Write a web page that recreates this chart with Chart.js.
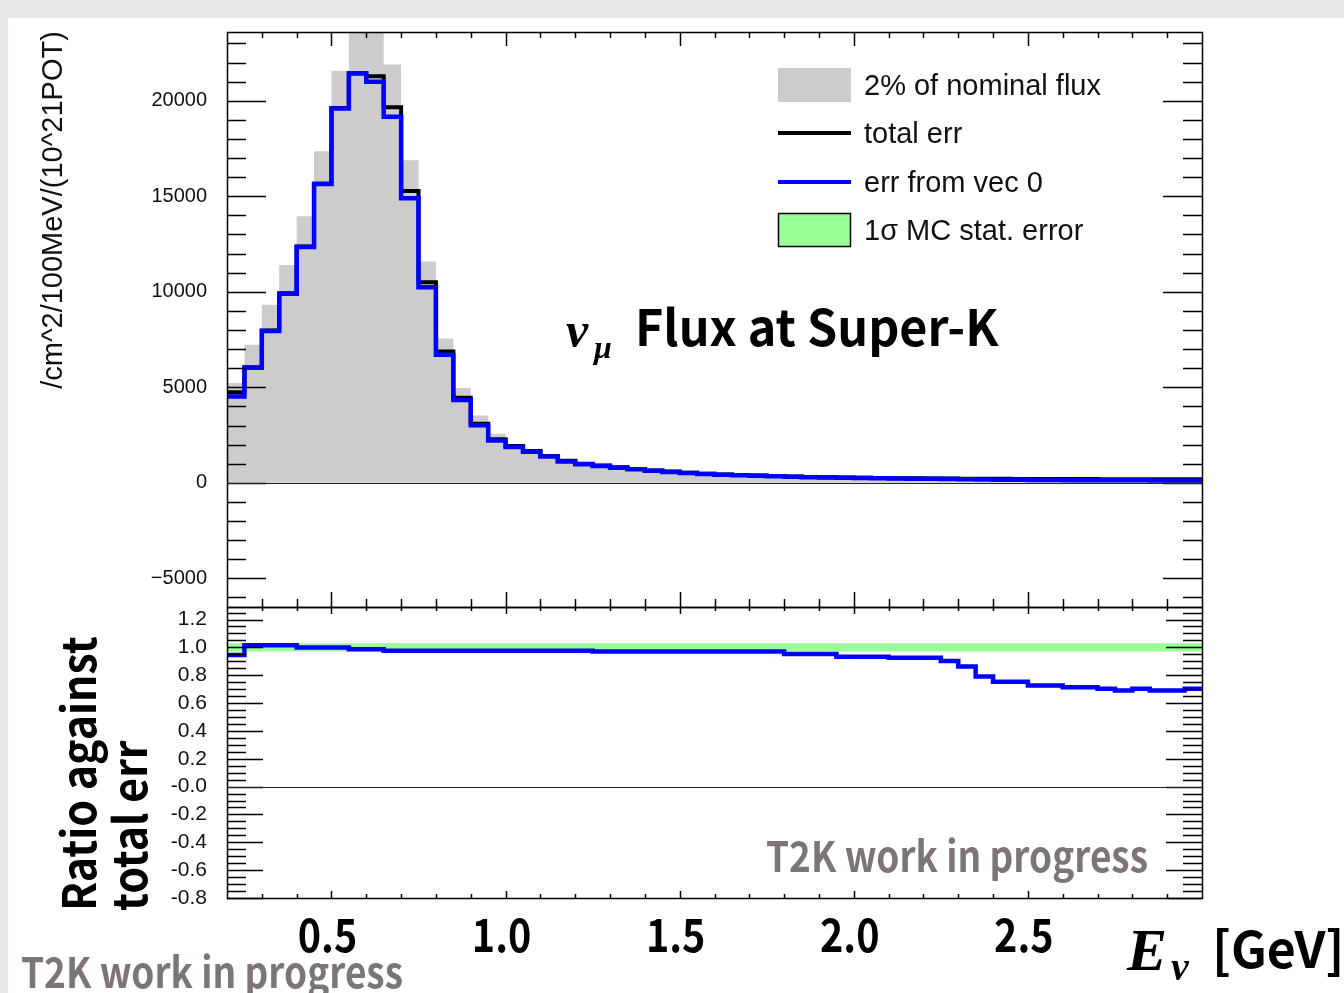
<!DOCTYPE html>
<html>
<head>
<meta charset="utf-8">
<title>numu flux at Super-K</title>
<script src="https://cdn.jsdelivr.net/npm/chart.js@4.4.1/dist/chart.umd.min.js"></script>
<style>
  html, body { margin: 0; padding: 0; width: 1344px; height: 993px; overflow: hidden; background: #e9e7e7; }
  #sheet { position: absolute; left: 8px; top: 18px; width: 1336px; height: 975px; background: #ffffff; }
  canvas { position: absolute; left: 0; top: 0; }
</style>
</head>
<body>
<div id="sheet"></div>
<canvas id="fluxChart" width="1344" height="993"></canvas>
<canvas id="ratioChart" width="1344" height="993"></canvas>
<script>
// ---- binning (GeV): 50 MeV bins from 0.2 to 3.0 ----
const energyEdges = [0.20,0.25,0.30,0.35,0.40,0.45,0.50,0.55,0.60,0.65,0.70,0.75,0.80,0.85,0.90,0.95,
  1.00,1.05,1.10,1.15,1.20,1.25,1.30,1.35,1.40,1.45,1.50,1.55,1.60,1.65,1.70,1.75,1.80,1.85,1.90,1.95,
  2.00,2.05,2.10,2.15,2.20,2.25,2.30,2.35,2.40,2.45,2.50,2.55,2.60,2.65,2.70,2.75,2.80,2.85,2.90,2.95,3.00];

// ---- flux error histograms (/cm^2/100MeV/(10^21POT)) ----
const nominalTwoPercent = [5230,7230,9320,11400,13950,17360,21570,25500,25500,21900,16890,11580,7550,4970,3530,2570,
  2020,1760,1460,1220,1050,960,860,770,690,620,560,510,470,430,400,370,345,320,300,285,
  270,258,245,235,225,215,205,198,190,184,178,172,167,162,157,152,148,144,140,136];
const totalErr = [4745,6050,7980,9930,12370,15660,19620,21440,21280,19660,15280,10500,6880,4450,3090,2280,
  1930,1670,1410,1150,1000,910,820,730,650,590,530,480,440,410,380,355,330,310,295,280,
  268,256,245,236,228,222,218,214,210,206,203,200,198,195,193,190,188,186,184,182];
const vec0Err = [4520,6020,7950,9900,12340,15640,19600,21430,20990,19170,14900,10240,6710,4340,3010,2220,
  1880,1630,1375,1120,975,885,795,708,630,572,514,466,427,398,369,344,314,295,281,261,
  250,239,227,219,211,200,188,169,158,155,147,145,141,139,135,131,132,128,127,128];

// ---- ratio err(vec 0) / total err ----
const vec0Ratio = [0.945,1.016,1.016,1.016,1.000,1.000,1.000,0.986,0.986,0.975,0.975,0.975,0.975,0.975,0.975,0.975,
  0.975,0.975,0.975,0.975,0.975,0.970,0.970,0.970,0.970,0.970,0.970,0.970,0.970,0.970,0.970,0.970,
  0.952,0.952,0.952,0.933,0.933,0.933,0.926,0.926,0.926,0.902,0.862,0.790,0.754,0.754,0.726,0.726,
  0.714,0.714,0.702,0.690,0.702,0.690,0.690,0.702];
const mcStatRangeE = [0.2, 3.0];
const mcStatHigh = [1.03, 1.03];
const mcStatLow = [0.97, 0.97];

// ---- axis ticks and labels ----
const fluxTicks = [-5000, 0, 5000, 10000, 15000, 20000];
const fluxTickLabels = ['\u22125000', '0', '5000', '10000', '15000', '20000'];
const ratioTicks = [-0.8, -0.6, -0.4, -0.2, 0.0, 0.2, 0.4, 0.6, 0.8, 1.0, 1.2];
const ratioTickLabels = ['-0.8', '-0.6', '-0.4', '-0.2', '-0.0', '0.2', '0.4', '0.6', '0.8', '1.0', '1.2'];
const energyTicks = [0.5, 1.0, 1.5, 2.0, 2.5];
const energyTickLabels = ['0.5', '1.0', '1.5', '2.0', '2.5'];

const seriesNames = ['2% of nominal flux', 'total err', 'err from vec 0', '1\u03c3 MC stat. error'];

const SANS = '"Liberation Sans", Arial, sans-serif';
const SLIDE = '"Noto Sans CJK JP", "Noto Sans", sans-serif';
const SERIF = '"Liberation Serif", "DejaVu Serif", serif';
const GREEN = 'rgb(153,255,153)';
const WATERMARK = '#7b7675';

// histogram as step points on the bin edges (last edge repeats the last bin)
function histPoints(values) {
  return energyEdges.map((x, i) => ({ x: x, y: values[Math.max(i - 1, 0)] }));
}

function drawText(ctx, str, x, y, font, color, align, sx) {
  ctx.save();
  ctx.font = font;
  ctx.fillStyle = color;
  ctx.textAlign = align || 'left';
  ctx.textBaseline = 'alphabetic';
  ctx.translate(x, y);
  ctx.scale(sx || 1, 1);
  ctx.fillText(str, 0, 0);
  ctx.restore();
}

function drawRotated(ctx, str, x, y, font, color, align, sx) {
  ctx.save();
  ctx.translate(x, y);
  ctx.rotate(-Math.PI / 2);
  ctx.scale(sx || 1, 1);
  ctx.font = font;
  ctx.fillStyle = color;
  ctx.textAlign = align || 'left';
  ctx.textBaseline = 'alphabetic';
  ctx.fillText(str, 0, 0);
  ctx.restore();
}

// ROOT-style frame with ticks on all four sides
function drawFrame(chart, spec) {
  const { ctx, chartArea: a, scales: { x, y } } = chart;
  ctx.save();
  ctx.strokeStyle = '#000';
  ctx.lineWidth = 1.5;
  ctx.lineCap = 'butt';
  ctx.beginPath();
  // y ticks, left and right
  for (let i = spec.yMinorFrom; i <= spec.yMinorTo; i++) {
    const v = i * spec.yMinorStep;
    if (v < y.min || v > y.max) continue;
    const major = (i % spec.yMajorEvery) === 0;
    const len = major ? spec.yMajorLen : spec.yMinorLen;
    const py = Math.round(y.getPixelForValue(v)) + 0.5;
    ctx.moveTo(a.left, py); ctx.lineTo(a.left + len, py);
    ctx.moveTo(a.right, py); ctx.lineTo(a.right - len, py);
  }
  // x ticks, top and bottom (0.1 GeV minor, 0.5 GeV major)
  for (let i = 3; i <= 29; i++) {
    const major = (i % 5) === 0;
    const px = Math.round(x.getPixelForValue(i / 10)) + 0.5;
    const lt = major ? spec.xTopMajor : spec.xTopMinor;
    const lb = major ? spec.xBotMajor : spec.xBotMinor;
    ctx.moveTo(px, a.top); ctx.lineTo(px, a.top + lt);
    ctx.moveTo(px, a.bottom); ctx.lineTo(px, a.bottom - lb);
  }
  ctx.stroke();
  // zero line
  ctx.lineWidth = 1.2;
  ctx.strokeStyle = '#222';
  const pz = Math.round(y.getPixelForValue(0)) + 0.5;
  ctx.beginPath();
  ctx.moveTo(a.left, pz); ctx.lineTo(a.right, pz);
  ctx.stroke();
  // frame
  ctx.lineWidth = 1.5;
  ctx.strokeStyle = '#000';
  ctx.strokeRect(Math.round(a.left) + 0.5, Math.round(a.top) + 0.5,
    Math.round(a.right - a.left), Math.round(a.bottom - a.top));
  ctx.restore();
}

const fluxDecor = {
  id: 'fluxDecor',
  afterDatasetsDraw(chart) {
    drawFrame(chart, {
      yMinorFrom: -6, yMinorTo: 23, yMinorStep: 1000, yMajorEvery: 5,
      yMajorLen: 39, yMinorLen: 19,
      xTopMajor: 14, xTopMinor: 6, xBotMajor: 15, xBotMinor: 8
    });
    const ctx = chart.ctx;
    const ds = chart.data.datasets;
    // legend
    ctx.save();
    ctx.fillStyle = ds[0].backgroundColor;
    ctx.fillRect(778, 68, 73, 34);
    ctx.lineWidth = 4;
    ctx.strokeStyle = ds[1].borderColor;
    ctx.beginPath(); ctx.moveTo(778, 133); ctx.lineTo(851, 133); ctx.stroke();
    ctx.strokeStyle = ds[2].borderColor;
    ctx.beginPath(); ctx.moveTo(778, 182); ctx.lineTo(851, 182); ctx.stroke();
    ctx.fillStyle = GREEN;
    ctx.fillRect(779, 214, 72, 32);
    ctx.lineWidth = 1.5;
    ctx.strokeStyle = '#000';
    ctx.strokeRect(778.5, 213.5, 72, 33);
    ctx.restore();
    const lf = '29px ' + SANS;
    drawText(ctx, seriesNames[0], 864, 95, lf, '#111');
    drawText(ctx, seriesNames[1], 864, 143, lf, '#111');
    drawText(ctx, seriesNames[2], 864, 192, lf, '#111');
    drawText(ctx, seriesNames[3], 864, 240, lf, '#111');
    // panel title
    drawText(ctx, '\u03bd', 566, 347, 'bold italic 50px ' + SERIF, '#000');
    drawText(ctx, '\u03bc', 594, 358, 'bold italic 32px ' + SERIF, '#000');
    drawText(ctx, 'Flux at Super-K', 635, 346, 'bold 50px ' + SLIDE, '#000', 'left', 0.97);
    // y axis title
    drawRotated(ctx, '/cm^2/100MeV/(10^21POT)', 62, 210, '29px ' + SANS, '#111', 'center');
  }
};

const ratioDecor = {
  id: 'ratioDecor',
  afterDatasetsDraw(chart) {
    drawFrame(chart, {
      yMinorFrom: -16, yMinorTo: 25, yMinorStep: 0.05, yMajorEvery: 4,
      yMajorLen: 36, yMinorLen: 19,
      xTopMajor: 7, xTopMinor: 4, xBotMajor: 7, xBotMinor: 4
    });
    const ctx = chart.ctx;
    const x = chart.scales.x;
    // energy tick labels
    energyTicks.forEach((v, i) => {
      drawText(ctx, energyTickLabels[i], x.getPixelForValue(v) - 4, 952, 'bold 46px ' + SLIDE, '#000', 'center', 0.86);
    });
    // x axis title
    drawText(ctx, 'E', 1127, 970, 'bold italic 60px ' + SERIF, '#000');
    drawText(ctx, '\u03bd', 1171, 980, 'bold italic 40px ' + SERIF, '#000');
    drawText(ctx, '[GeV]', 1212, 968, 'bold 50px ' + SLIDE, '#000');
    // ratio y title
    drawRotated(ctx, 'Ratio against', 96, 911, 'bold 46px ' + SLIDE, '#000', 'left', 0.93);
    drawRotated(ctx, 'total err', 147, 911, 'bold 46px ' + SLIDE, '#000', 'left', 0.93);
    // watermarks
    drawText(ctx, 'T2K work in progress', 766, 872, 'bold 42px ' + SLIDE, WATERMARK, 'left', 0.88);
    drawText(ctx, 'T2K work in progress', 21, 988, 'bold 42px ' + SLIDE, WATERMARK, 'left', 0.88);
  }
};

function yAxis(min, max, ticks, labels, size) {
  return {
    type: 'linear', min: min, max: max,
    afterFit(s) { s.width = 227; },
    afterBuildTicks(s) { s.ticks = ticks.map(v => ({ value: v })); },
    grid: { display: false, drawTicks: false },
    border: { display: false },
    ticks: {
      padding: 20, color: '#111',
      font: { family: SANS, size: size },
      callback: (v, i) => labels[i]
    }
  };
}

function baseOptions(padTop, padBottom, y) {
  return {
    responsive: false, animation: false, devicePixelRatio: 1, events: [],
    layout: { padding: { left: 0, right: 142, top: padTop, bottom: padBottom } },
    plugins: { legend: { display: false }, tooltip: { enabled: false } },
    elements: { point: { radius: 0 }, line: { borderJoinStyle: 'miter', borderCapStyle: 'butt' } },
    scales: {
      x: { type: 'linear', min: 0.2, max: 3.0, display: false },
      y: y
    }
  };
}

function build() {
  new Chart(document.getElementById('fluxChart'), {
    type: 'line',
    data: {
      datasets: [
        { label: seriesNames[0], data: histPoints(nominalTwoPercent), stepped: 'after',
          fill: 'origin', backgroundColor: '#cccccc', borderColor: 'rgba(0,0,0,0)', borderWidth: 1, order: 3 },
        { label: seriesNames[1], data: histPoints(totalErr), stepped: 'after',
          fill: false, borderColor: '#000000', borderWidth: 4, order: 2 },
        { label: seriesNames[2], data: histPoints(vec0Err), stepped: 'after',
          fill: false, borderColor: '#0000ff', borderWidth: 4.5, order: 1 }
      ]
    },
    options: baseOptions(29, 386, yAxis(-6500, 23600, fluxTicks, fluxTickLabels, 20)),
    plugins: [fluxDecor]
  });

  new Chart(document.getElementById('ratioChart'), {
    type: 'line',
    data: {
      datasets: [
        { label: seriesNames[3], data: mcStatRangeE.map((e, i) => ({ x: e, y: mcStatHigh[i] })),
          fill: '+1', backgroundColor: GREEN, borderColor: 'rgba(0,0,0,0)', borderWidth: 1, order: 3 },
        { label: seriesNames[3] + ' (low)', data: mcStatRangeE.map((e, i) => ({ x: e, y: mcStatLow[i] })),
          fill: false, borderColor: 'rgba(0,0,0,0)', borderWidth: 1, order: 2 },
        { label: seriesNames[2], data: histPoints(vec0Ratio), stepped: 'after',
          fill: false, borderColor: '#0000ff', borderWidth: 4.5, order: 1 }
      ]
    },
    options: baseOptions(607, 95, yAxis(-0.8, 1.29, ratioTicks, ratioTickLabels, 21)),
    plugins: [ratioDecor]
  });
}

const fontLoads = [
  'bold 46px "Noto Sans CJK JP"', '29px "Liberation Sans"',
  'bold italic 50px "Liberation Serif"'
].map(f => document.fonts.load(f).catch(() => null));
Promise.all(fontLoads).then(build, build);
</script>
</body>
</html>
